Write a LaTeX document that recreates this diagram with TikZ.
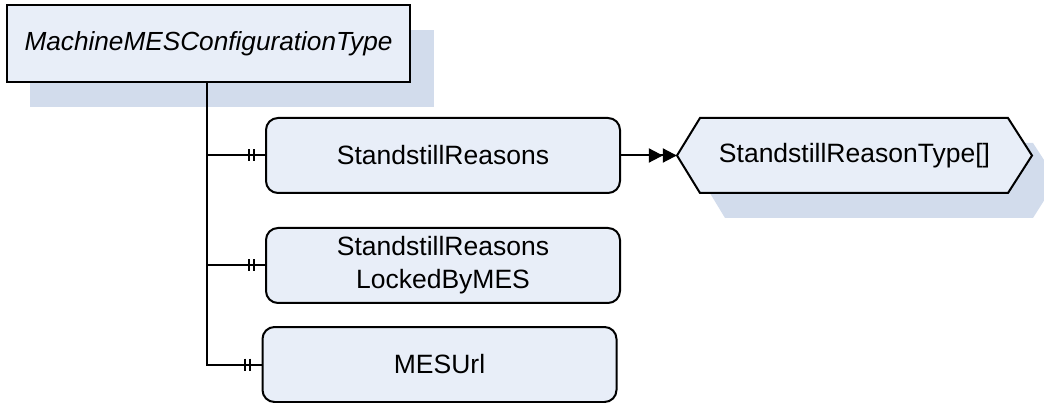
\documentclass[tikz,border=0pt]{standalone}
\usepackage{fontspec}
\setmainfont{Liberation Sans}
\usetikzlibrary{arrows.meta}
\definecolor{boxfill}{RGB}{232,238,248}
\definecolor{shadowfill}{RGB}{210,220,236}
\tikzset{
  elem/.style={draw=black, line width=2pt, fill=boxfill, rounded corners=12pt,
    minimum width=354pt, minimum height=75pt, inner sep=0pt, align=center,
    font=\fontsize{26.5}{33}\selectfont},
  conn/.style={line width=2pt, draw=black},
  tick/.style={line width=1.6pt, draw=black},
}
\begin{document}
\begin{tikzpicture}[x=1pt,y=-1pt]
\useasboundingbox (0,0) rectangle (1044,403);
% top type box
\fill[shadowfill] (30,30) rectangle (434,107);
\node[draw=black, line width=2pt, fill=boxfill, minimum width=403pt, minimum height=77pt,
  inner sep=0pt, font=\fontsize{26.2}{31}\selectfont\itshape] (top) at (208.5,43.5) {MachineMESConfigurationType};
% elements
\node[elem] (sr) at (443,155.5) {StandstillReasons};
\node[elem] (srl) at (443,265.5) {StandstillReasons\\LockedByMES};
\node[elem] (url) at (439.5,364.5) {MESUrl};
% hexagon type
\fill[shadowfill] (702,180) -- (725,143) -- (1033,143) -- (1057,180) -- (1033,218) -- (725,218) -- cycle;
\draw[line width=2pt, fill=boxfill] (677,155.5) -- (700,118) -- (1008,118) -- (1032,155.5) -- (1008,193) -- (700,193) -- cycle;
\node[minimum width=355pt, minimum height=75pt, inner sep=0pt, font=\fontsize{26.5}{31}\selectfont] (hex) at (854.5,155.5) {StandstillReasonType[]};
% tree connectors
\coordinate (trunk) at (207,377);
\coordinate (b1) at (207,155.5);
\coordinate (b2) at (207,265.5);
\coordinate (b3) at (207,364.5);
\draw[conn] (top.south -| trunk) -- (b3) -- (url.west);
\draw[conn] (b1) -- (sr.west);
\draw[conn] (b2) -- (srl.west);
% cardinality ticks
\foreach \y/\xx in {155.5/249, 265.5/249, 364.5/245}{
  \draw[tick] (\xx,\y-6) -- (\xx,\y+6);
  \draw[tick] (\xx+5,\y-6) -- (\xx+5,\y+6);
}
% arrow to type
\draw[conn, -{Triangle[length=14pt,width=14pt]Triangle[length=14pt,width=14pt]}] (sr.east) -- (hex.west);
\end{tikzpicture}
\end{document}
